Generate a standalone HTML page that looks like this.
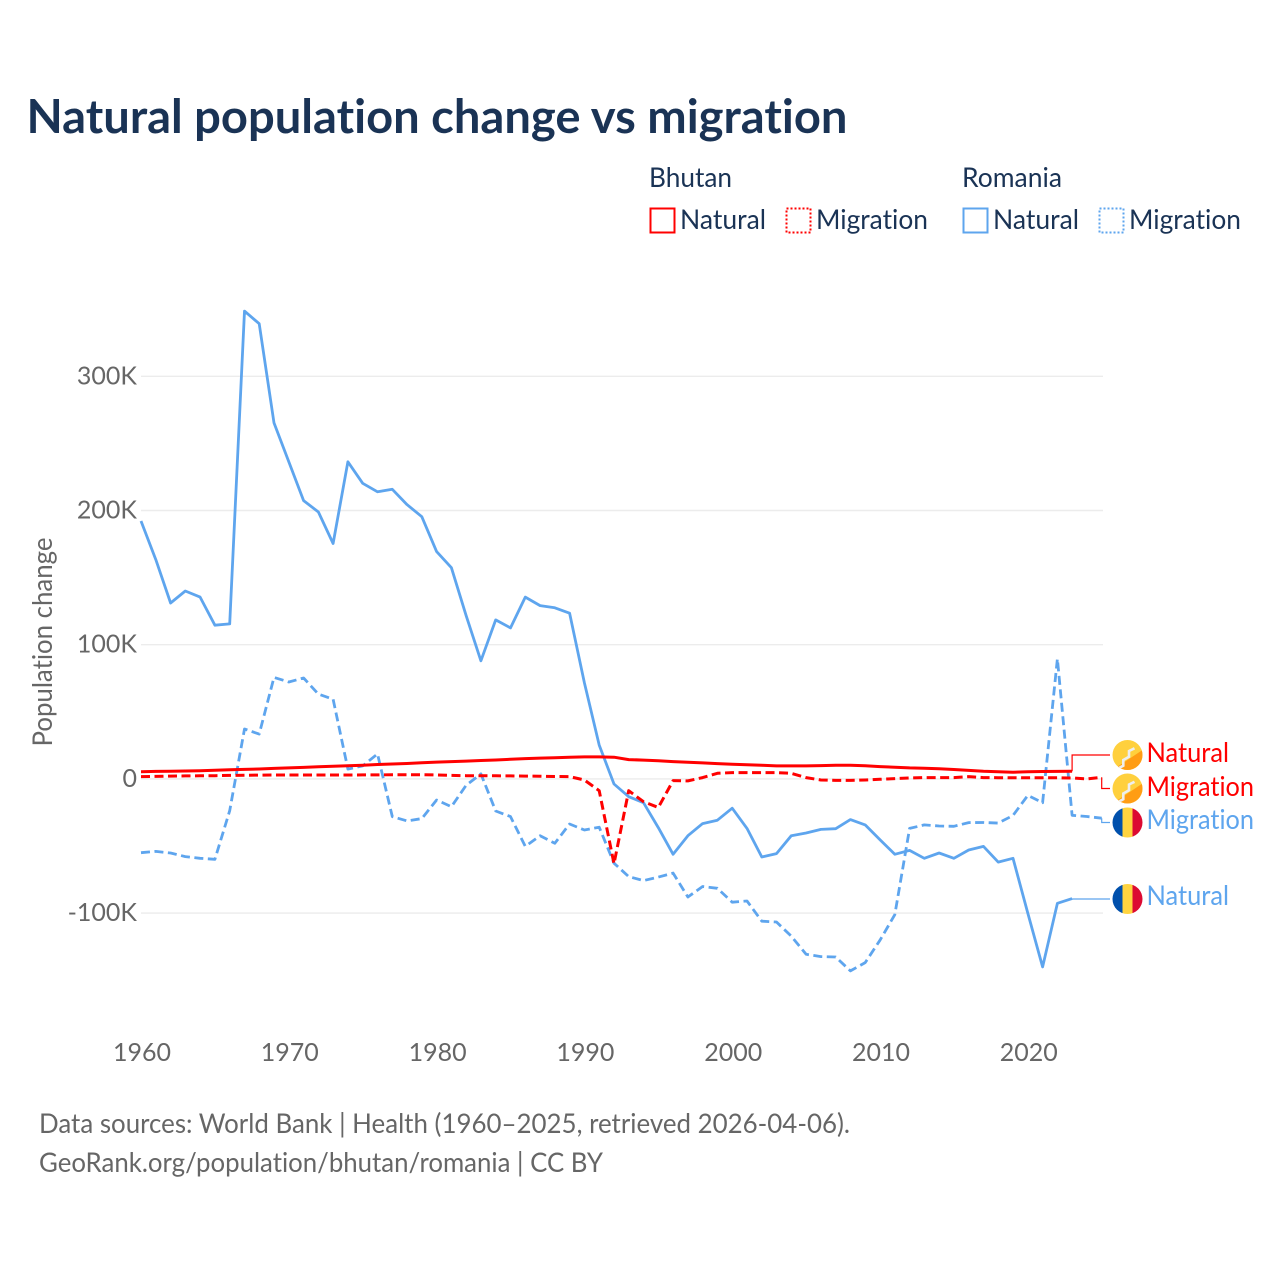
<!DOCTYPE html>
<html lang="en">
<head>
<meta charset="utf-8">
<title>Natural population change vs migration</title>
<style>
html,body{margin:0;padding:0;background:#fff;width:1280px;height:1280px;overflow:hidden}
svg{display:block}
text{font-family:"Lato","Carlito","Liberation Sans",sans-serif;font-variant-ligatures:none;font-feature-settings:"liga" 0,"clig" 0}
.legend-text{font-size:27px;fill:#1a3355}
.muted{font-size:27px;fill:#666}
.tick{font-size:25px;fill:#666}
</style>
</head>
<body>
<svg id="chart" width="1280" height="1280" viewBox="0 0 1280 1280" xmlns="http://www.w3.org/2000/svg">
<defs>
<clipPath id="flag-clip-a"><circle cx="1127.5" cy="755" r="15"/></clipPath>
<clipPath id="flag-clip-b"><circle cx="1127.5" cy="788.5" r="15"/></clipPath>
<clipPath id="flag-clip-c"><circle cx="1127.5" cy="822.5" r="15"/></clipPath>
<clipPath id="flag-clip-d"><circle cx="1127.5" cy="899" r="15"/></clipPath>
</defs>

<text x="26.5" y="133" font-size="47" font-weight="700" fill="#1a3355" textLength="821" lengthAdjust="spacingAndGlyphs">Natural population change vs migration</text>

<g>
<text class="legend-text" x="649" y="187" textLength="83" lengthAdjust="spacingAndGlyphs">Bhutan</text>
<text class="legend-text" x="962" y="187" textLength="100" lengthAdjust="spacingAndGlyphs">Romania</text>
<rect x="650.5" y="208.5" width="24" height="24" fill="none" stroke="#ff0000" stroke-width="2"/>
<text class="legend-text" x="680" y="229" textLength="86" lengthAdjust="spacingAndGlyphs">Natural</text>
<rect x="786.5" y="208.5" width="24" height="24" fill="none" stroke="#ff0000" stroke-width="2" stroke-dasharray="2 2"/>
<text class="legend-text" x="816" y="229" textLength="112" lengthAdjust="spacingAndGlyphs">Migration</text>
<rect x="963.5" y="208.5" width="24" height="24" fill="none" stroke="#5ea5ee" stroke-width="2"/>
<text class="legend-text" x="993" y="229" textLength="86" lengthAdjust="spacingAndGlyphs">Natural</text>
<rect x="1099.5" y="208.5" width="24" height="24" fill="none" stroke="#5ea5ee" stroke-width="2" stroke-dasharray="2 2"/>
<text class="legend-text" x="1129" y="229" textLength="112" lengthAdjust="spacingAndGlyphs">Migration</text>
</g>

<text class="muted" transform="translate(52,642) rotate(-90)" text-anchor="middle" font-size="26" textLength="209" lengthAdjust="spacingAndGlyphs">Population change</text>

<g id="grid"></g>
<g id="yticks"></g>
<g id="xticks"></g>
<g id="leaders"></g>
<g id="series"></g>

<g clip-path="url(#flag-clip-a)">
<rect x="1112" y="740" width="31" height="30" fill="#ffd03d"/>
<path d="M1112.5 770 L1142.5 750 L1143 770 Z" fill="#ff9d14"/>
<path d="M1119 768 L1123.3 765.7 L1123.3 760 L1129 756.7 L1129 751 L1134.5 748.3" fill="none" stroke="#eeeeee" stroke-width="2.6"/>
</g>
<g clip-path="url(#flag-clip-b)">
<rect x="1112" y="773" width="31" height="31" fill="#ffd03d"/>
<path d="M1112.5 803.5 L1142.5 783.5 L1143 803.5 Z" fill="#ff9d14"/>
<path d="M1119 801.5 L1123.3 799.2 L1123.3 793.5 L1129 790.2 L1129 784.5 L1134.5 781.8" fill="none" stroke="#eeeeee" stroke-width="2.6"/>
</g>
<g clip-path="url(#flag-clip-c)">
<rect x="1112.5" y="807" width="10" height="31" fill="#0050ac"/>
<rect x="1122.5" y="807" width="10" height="31" fill="#ffd440"/>
<rect x="1132.5" y="807" width="10" height="31" fill="#dc0a32"/>
</g>
<g clip-path="url(#flag-clip-d)">
<rect x="1112.5" y="884" width="10" height="30" fill="#0050ac"/>
<rect x="1122.5" y="884" width="10" height="30" fill="#ffd440"/>
<rect x="1132.5" y="884" width="10" height="30" fill="#dc0a32"/>
</g>

<text x="1146.5" y="762" font-size="27" fill="#ff0000" textLength="82.5" lengthAdjust="spacingAndGlyphs">Natural</text>
<text x="1146.5" y="796" font-size="27" fill="#ff0000" textLength="107.5" lengthAdjust="spacingAndGlyphs">Migration</text>
<text x="1146.5" y="829" font-size="27" fill="#5ea5ee" textLength="107.5" lengthAdjust="spacingAndGlyphs">Migration</text>
<text x="1146.5" y="905" font-size="27" fill="#5ea5ee" textLength="82.5" lengthAdjust="spacingAndGlyphs">Natural</text>

<text class="muted" x="39" y="1133" textLength="811" lengthAdjust="spacingAndGlyphs">Data sources: World Bank | Health (1960–2025, retrieved 2026-04-06).</text>
<text class="muted" x="39" y="1172" textLength="564" lengthAdjust="spacingAndGlyphs">GeoRank.org/population/bhutan/romania | CC BY</text>
</svg>

<script>
const startYear = 1960;
const yTickValues = [300, 200, 100, 0, -100];
const yTickLabels = ["300K", "200K", "100K", "0", "-100K"];
const xTickValues = [1960, 1970, 1980, 1990, 2000, 2010, 2020];

// All values in thousands of people, one per year starting 1960.
const romaniaNatural = [192.2,163.4,131.1,140,135.5,114.5,115.5,348.6,339.2,265.3,236.3,207.4,198.9,175.4,236.3,220.3,213.9,215.8,204.4,195.4,169.4,157.4,121.5,88,118.5,112.5,135.5,129.1,127.5,123.5,71.6,25.2,-3.8,-13.3,-17.7,-36.3,-56.2,-42.3,-33.3,-30.8,-21.8,-36.9,-58.2,-55.7,-42.3,-40.3,-37.6,-37.1,-30.3,-34.3,-45.3,-56.2,-53.3,-59.2,-55.2,-59.2,-53,-50.3,-62,-59.2,-100,-140.1,-92.7,-89.2];
const romaniaMigration = [-55,-54,-55.2,-57.9,-59.2,-59.9,-23.7,37.2,33.4,75.6,72.2,75.2,63.2,59.4,7.3,9.7,18.6,-28.1,-31.3,-29.6,-15.7,-20.7,-4.7,3.7,-23.9,-28.1,-50.3,-42.3,-48,-33.6,-38.1,-36,-62.8,-72.8,-75.8,-73.2,-70.2,-88,-80.2,-81.5,-91.9,-91,-106,-106.6,-117.2,-130.7,-132.4,-132.7,-143.1,-136.9,-120.2,-101.2,-36.9,-34.3,-35.1,-35.3,-32.6,-32.5,-32.9,-27.3,-12.3,-17.7,89.5,-27.1,-28,-29.3];
const bhutanNatural = [5.4,5.6,5.7,5.9,6.1,6.4,6.8,7.1,7.4,7.8,8.2,8.6,9,9.4,9.8,10.2,10.7,11.1,11.5,12.1,12.5,12.9,13.3,13.7,14.1,14.6,15.1,15.5,15.8,16.2,16.4,16.4,16.2,14.4,14,13.5,12.9,12.4,11.9,11.4,10.9,10.6,10.1,9.7,9.7,9.7,9.9,10.1,10.1,9.8,9.2,8.7,8.2,8,7.6,7,6.3,5.7,5.3,4.9,5.4,5.5,5.6,5.7];
const bhutanMigration = [1.7,1.9,2.1,2.2,2.3,2.4,2.6,2.7,2.8,2.9,2.9,2.9,2.9,2.9,2.9,3,3,3.1,3.1,3.1,2.9,2.6,2.4,2.3,2.3,2.2,2.1,2,1.8,1.7,-0.8,-8.8,-63.2,-8.8,-17,-21.3,-1.3,-1.5,1,4.2,4.7,4.7,4.7,4.7,4.2,1,-0.8,-1.1,-1.1,-0.8,-0.3,0.2,0.7,1,1,1,1.7,1,0.9,0.9,0.8,0.8,0.8,0.7,0,1.2];

const NS = "http://www.w3.org/2000/svg";
const xScale = function (year) { return 141 + (year - 1960) * 14.78; };
const yScale = function (value) { return 778.9 - value * 1.342; };

const seriesDraw = [
  { name: "line-romania-natural", vals: romaniaNatural, color: "#5ea5ee", width: 2.8, dash: null, labelY: 899 },
  { name: "line-romania-migration", vals: romaniaMigration, color: "#5ea5ee", width: 2.8, dash: "9 4.5", labelY: 822.5 },
  { name: "line-bhutan-natural", vals: bhutanNatural, color: "#ff0000", width: 3, dash: null, labelY: 755 },
  { name: "line-bhutan-migration", vals: bhutanMigration, color: "#ff0000", width: 3, dash: "9 4.5", labelY: 788.5 }
];

const grid = document.getElementById("grid");
const yticks = document.getElementById("yticks");
yTickValues.forEach(function (v, i) {
  const l = document.createElementNS(NS, "line");
  l.setAttribute("x1", 141);
  l.setAttribute("x2", 1103);
  l.setAttribute("y1", yScale(v));
  l.setAttribute("y2", yScale(v));
  l.setAttribute("stroke", "#ececec");
  l.setAttribute("stroke-width", 1.4);
  
  
  grid.appendChild(l);
  const t = document.createElementNS(NS, "text");
  t.setAttribute("x", 137);
  t.setAttribute("y", yScale(v) + 8);
  t.setAttribute("text-anchor", "end");
  t.setAttribute("class", "tick");
  
  
  t.textContent = yTickLabels[i];
  yticks.appendChild(t);
});

const xticks = document.getElementById("xticks");
xTickValues.forEach(function (year) {
  const t = document.createElementNS(NS, "text");
  t.setAttribute("x", xScale(year) + 1);
  t.setAttribute("y", 1061);
  t.setAttribute("text-anchor", "middle");
  t.setAttribute("class", "tick");
  
  
  t.textContent = String(year);
  xticks.appendChild(t);
});

const leaders = document.getElementById("leaders");
const seriesGroup = document.getElementById("series");
seriesDraw.forEach(function (s) {
  const pts = s.vals.map(function (v, i) {
    return xScale(startYear + i).toFixed(1) + "," + yScale(v).toFixed(1);
  });
  const p = document.createElementNS(NS, "polyline");
  p.setAttribute("points", pts.join(" "));
  p.setAttribute("fill", "none");
  p.setAttribute("stroke", s.color);
  p.setAttribute("stroke-width", s.width);
  p.setAttribute("stroke-linejoin", "round");
  if (s.dash) p.setAttribute("stroke-dasharray", s.dash);
  
  
  seriesGroup.appendChild(p);
  const lastIndex = s.vals.length - 1;
  const lx = xScale(startYear + lastIndex);
  const ly = yScale(s.vals[lastIndex]);
  const c = document.createElementNS(NS, "path");
  c.setAttribute("d", "M" + lx.toFixed(1) + " " + ly.toFixed(1) + " V" + s.labelY + " H1110");
  c.setAttribute("fill", "none");
  c.setAttribute("stroke", s.color);
  c.setAttribute("stroke-width", 1.2);
  
  
  leaders.appendChild(c);
});
</script>
</body>
</html>
